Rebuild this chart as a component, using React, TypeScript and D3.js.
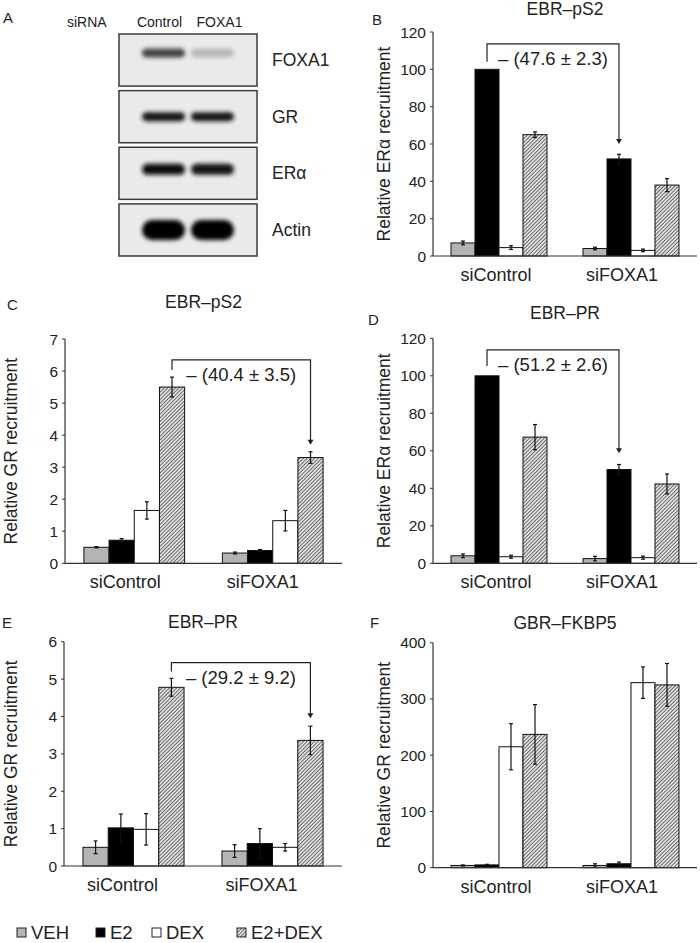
import React from "react";
import * as d3 from "d3";

const FONT = "'Liberation Sans', Arial, Helvetica, sans-serif";

const CATEGORIES = ["siControl", "siFOXA1"];
const TREATMENTS = ["VEH", "E2", "DEX", "E2+DEX"];

// panel B: EBR-pS2, ERa
const B_MEANS = [[7, 100, 4.5, 65], [4, 52, 3, 38]];
const B_ERRORS = [[1, 0, 1, 1.5], [0.7, 2.5, 0.7, 3.5]];
// panel C: EBR-pS2, GR
const C_MEANS = [[0.5, 0.72, 1.65, 5.5], [0.32, 0.4, 1.33, 3.3]];
const C_ERRORS = [[0.02, 0.05, 0.27, 0.31], [0.03, 0.03, 0.32, 0.18]];
// panel D: EBR-PR, ERa
const D_MEANS = [[4, 100, 3.5, 67.3], [2.5, 50, 3, 42.3]];
const D_ERRORS = [[1, 0, 0.8, 6.7], [1.2, 2.7, 0.8, 5.3]];
// panel E: EBR-PR, GR
const E_MEANS = [[0.5, 1.02, 0.98, 4.78], [0.4, 0.6, 0.5, 3.36]];
const E_ERRORS = [[0.17, 0.37, 0.42, 0.24], [0.17, 0.4, 0.1, 0.38]];
// panel F: GBR-FKBP5, GR
const F_MEANS = [[4, 5, 215, 237], [4, 7, 329, 325]];
const F_ERRORS = [[1, 1, 41, 53], [3, 3, 28, 38]];

// western blot (panel A)
const BLOT_LANES = ["Control", "FOXA1"];
const BLOT_ROWS = ["FOXA1", "GR", "ERα", "Actin"];
const BLOT_INTENSITY = [[0.72, 0.2], [0.92, 0.92], [0.97, 0.93], [1, 1]];

const BAND_HEIGHT = [9, 9, 11, 20];
const BAND_SHIFT = [-7, 0, -4, 0];

const FILLS = ["#b4b4b4", "#000", "#fff", "url(#hatch)"];

type Bracket = { series: number; start: number; top: number; end: number; text: string };

type Panel = {
  letter: string;
  title: string;
  yLabel: string;
  means: number[][];
  errors: number[][];
  max: number;
  step: number;
  left: number;
  right: number;
  top: number;
  bottom: number;
  titleY: number;
  letterX: number;
  letterY: number;
  labelX: number;
  labelDx: number[];
  bracket?: Bracket;
};

const PANELS: Panel[] = [
  {
    letter: "B", title: "EBR–pS2", yLabel: "Relative ERα recruitment",
    means: B_MEANS, errors: B_ERRORS, max: 120, step: 20,
    left: 433, right: 697, top: 32, bottom: 256,
    titleY: 15, letterX: 372, letterY: 25, labelX: 390, labelDx: [-3, -9],
    bracket: { series: 1, start: 104, top: 113.6, end: 60, text: "– (47.6 ± 2.3)" },
  },
  {
    letter: "C", title: "EBR–pS2", yLabel: "Relative GR recruitment",
    means: C_MEANS, errors: C_ERRORS, max: 7, step: 1,
    left: 65, right: 342, top: 339, bottom: 563.3,
    titleY: 308, letterX: 7, letterY: 310, labelX: 17, labelDx: [-9, -10],
    bracket: { series: 3, start: 6.03, top: 6.35, end: 3.7, text: "– (40.4 ± 3.5)" },
  },
  {
    letter: "D", title: "EBR–PR", yLabel: "Relative ERα recruitment",
    means: D_MEANS, errors: D_ERRORS, max: 120, step: 20,
    left: 433, right: 697, top: 338.3, bottom: 563.3,
    titleY: 319, letterX: 368, letterY: 325, labelX: 390, labelDx: [-3, -9],
    bracket: { series: 1, start: 105.2, top: 113.8, end: 58.7, text: "– (51.2 ± 2.6)" },
  },
  {
    letter: "E", title: "EBR–PR", yLabel: "Relative GR recruitment",
    means: E_MEANS, errors: E_ERRORS, max: 6, step: 1,
    left: 64, right: 342, top: 641.7, bottom: 866,
    titleY: 628, letterX: 2, letterY: 628, labelX: 17, labelDx: [-11, -11],
    bracket: { series: 3, start: 5.2, top: 5.44, end: 3.95, text: "– (29.2 ± 9.2)" },
  },
  {
    letter: "F", title: "GBR–FKBP5", yLabel: "Relative GR recruitment",
    means: F_MEANS, errors: F_ERRORS, max: 400, step: 100,
    left: 433, right: 697, top: 642.7, bottom: 867.7,
    titleY: 629, letterX: 370, letterY: 628, labelX: 390, labelDx: [-3, -9],
  },
];

const BarPanel = ({ p }: { p: Panel }) => {
  const y = d3.scaleLinear().domain([0, p.max]).range([p.bottom, p.top]);
  const x0 = d3
    .scaleBand()
    .domain(CATEGORIES)
    .range([p.left, p.right])
    .paddingInner(0.2727)
    .paddingOuter(0.1364);
  const x1 = d3.scaleBand().domain(TREATMENTS).range([0, x0.bandwidth()]);
  const ticks = d3.range(0, p.max + p.step / 2, p.step);
  const cx = (g: number, s: number) => (x0(CATEGORIES[g]) as number) + (x1(TREATMENTS[s]) as number) + x1.bandwidth() / 2;

  let bracket = null;
  if (p.bracket) {
    const b = p.bracket;
    const xa = cx(0, b.series);
    const xb = cx(1, b.series);
    const yTop = y(b.top);
    const yEnd = y(b.end);
    bracket = (
      <g>
        <path
          d={`M${xa},${y(b.start)}V${yTop}H${xb}V${yEnd - 4}`}
          fill="none"
          stroke="#222"
          strokeWidth={1.2}
        />
        <path d={`M${xb - 3},${yEnd - 5}L${xb + 3},${yEnd - 5}L${xb},${yEnd}Z`} fill="#222" />
        <text x={(xa + xb) / 2} y={yTop + 21} textAnchor="middle" fontSize={18.5} fill="#222">
          {b.text}
        </text>
      </g>
    );
  }

  return (
    <g fontFamily={FONT}>
      <text x={p.letterX} y={p.letterY} fontSize={15} fill="#222">{p.letter}</text>
      <text x={(p.left + p.right) / 2} y={p.titleY} textAnchor="middle" fontSize={17.5} fill="#222">
        {p.title}
      </text>
      <text
        transform={`translate(${p.labelX},${(p.top + p.bottom) / 2}) rotate(-90)`}
        textAnchor="middle"
        fontSize={17.5}
        fill="#222"
      >
        {p.yLabel}
      </text>
      {ticks.map(t => (
        <g key={t}>
          <line x1={p.left - 3} x2={p.left} y1={y(t)} y2={y(t)} stroke="#333" />
          <text x={p.left - 7} y={y(t) + 5.5} textAnchor="end" fontSize={15.5} fill="#222">
            {t}
          </text>
        </g>
      ))}
      {p.means.map((row, g) =>
        row.map((v, s) => {
          const x = (x0(CATEGORIES[g]) as number) + (x1(TREATMENTS[s]) as number);
          return (
            <rect
              key={`${g}-${s}`}
              x={x}
              y={y(v)}
              width={x1.bandwidth()}
              height={y(0) - y(v)}
              fill={FILLS[s]}
              stroke="#111"
              strokeWidth={1}
            />
          );
        }),
      )}
      {p.means.map((row, g) =>
        row.map((v, s) => {
          const e = p.errors[g][s];
          if (!e) return null;
          const c = cx(g, s);
          return (
            <g key={`e${g}-${s}`} stroke="#111" strokeWidth={1.2}>
              <line x1={c} x2={c} y1={y(v + e)} y2={y(Math.max(0, v - e))} />
              <line x1={c - 2} x2={c + 2} y1={y(v + e)} y2={y(v + e)} />
              <line x1={c - 2} x2={c + 2} y1={y(Math.max(0, v - e))} y2={y(Math.max(0, v - e))} />
            </g>
          );
        }),
      )}
      <line x1={p.left} x2={p.left} y1={p.top} y2={p.bottom} stroke="#333" strokeWidth={1.2} />
      <line x1={p.left} x2={p.right} y1={p.bottom} y2={p.bottom} stroke="#333" strokeWidth={1.2} />
      {CATEGORIES.map((c, g) => (
        <text
          key={c}
          x={(x0(c) as number) + x0.bandwidth() / 2 + p.labelDx[g]}
          y={p.bottom + 25}
          textAnchor="middle"
          fontSize={18}
          fill="#222"
        >
          {c}
        </text>
      ))}
      {bracket}
    </g>
  );
};

const Blot = () => {
  const rows = d3.scaleBand().domain(BLOT_ROWS).range([34, 256]).paddingInner(0.08);
  const lanes = d3.scaleBand().domain(BLOT_LANES).range([140, 236]).paddingInner(0.04);
  const tone = d3.scaleLinear<string>().domain([0, 1]).range(["#e6e6e6", "#050505"]);
  return (
    <g fontFamily={FONT} fill="#222">
      <text x={3} y={23} fontSize={15}>A</text>
      <text x={67} y={27} fontSize={14}>siRNA</text>
      {BLOT_LANES.map((l, i) => (
        <text key={l} x={(lanes(l) as number) + lanes.bandwidth() / 2 + (i === 0 ? -4 : 7)} y={27} textAnchor="middle" fontSize={14}>
          {l}
        </text>
      ))}
      {BLOT_ROWS.map((r, i) => {
        const top = rows(r) as number;
        const mid = top + rows.bandwidth() / 2;
        return (
          <g key={r}>
            <rect x={119} y={top} width={138} height={rows.bandwidth()} fill="#eaeaea" stroke="#3a3a3a" strokeWidth={1.5} />
            {BLOT_LANES.map((l, j) => (
              <rect
                key={l}
                x={(lanes(l) as number) + 2}
                y={mid + BAND_SHIFT[i] - BAND_HEIGHT[i] / 2}
                width={lanes.bandwidth() - 4}
                height={BAND_HEIGHT[i]}
                rx={BAND_HEIGHT[i] / 2}
                fill={tone(BLOT_INTENSITY[i][j])}
                filter="url(#blur)"
              />
            ))}
            <text x={272} y={mid + 6} fontSize={17.5}>{r}</text>
          </g>
        );
      })}
    </g>
  );
};

const Legend = () => {
  const xs = d3.scaleOrdinal<string, number>().domain(TREATMENTS).range([17, 96, 152, 237]);
  return (
    <g fontFamily={FONT}>
      {TREATMENTS.map((t, i) => (
        <g key={t}>
          <rect x={xs(t)} y={928} width={9} height={9} fill={FILLS[i]} stroke="#222" strokeWidth={1} />
          <text x={xs(t) + 14} y={938.5} fontSize={18.5} fill="#222">{t}</text>
        </g>
      ))}
    </g>
  );
};

export default function App() {
  return (
    <svg
      width={700}
      height={943}
      style={{ position: "absolute", left: 0, top: 0, background: "#fff" }}
    >
      <defs>
        <pattern id="hatch" patternUnits="userSpaceOnUse" width={2.6} height={2.6} patternTransform="rotate(45)">
          <rect width={2.6} height={2.6} fill="#e0e0e0" />
          <line x1={0} y1={0} x2={0} y2={2.6} stroke="#333" strokeWidth={1.3} />
        </pattern>
        <filter id="blur" x="-30%" y="-80%" width="160%" height="260%">
          <feGaussianBlur stdDeviation={2.2} />
        </filter>
      </defs>
      <rect width={700} height={943} fill="#fff" />
      <Blot />
      {PANELS.map(p => (
        <BarPanel key={p.letter} p={p} />
      ))}
      <Legend />
    </svg>
  );
}
